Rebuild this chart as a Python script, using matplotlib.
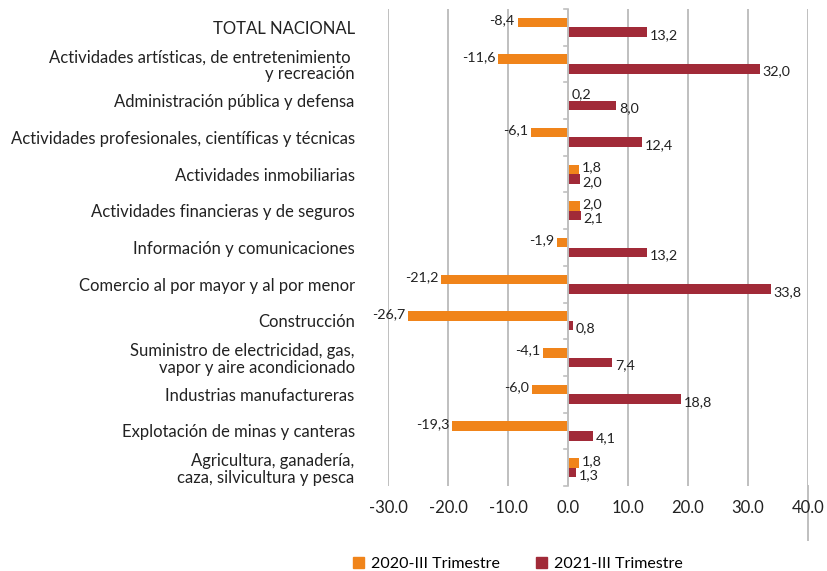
import matplotlib
matplotlib.use("Agg")
import matplotlib.pyplot as plt
import numpy as np
from matplotlib.patches import Patch

categories = [
    "TOTAL NACIONAL",
    "Actividades artísticas, de entretenimiento \ny recreación",
    "Administración pública y defensa",
    "Actividades profesionales, científicas y técnicas",
    "Actividades inmobiliarias",
    "Actividades financieras y de seguros",
    "Información y comunicaciones",
    "Comercio al por mayor y al por menor",
    "Construcción",
    "Suministro de electricidad, gas,\nvapor y aire acondicionado",
    "Industrias manufactureras",
    "Explotación de minas y canteras",
    "Agricultura, ganadería,\ncaza, silvicultura y pesca",
]
s2020 = [-8.4, -11.6, 0.2, -6.1, 1.8, 2.0, -1.9, -21.2, -26.7, -4.1, -6.0, -19.3, 1.8]
s2021 = [13.2, 32.0, 8.0, 12.4, 2.0, 2.1, 13.2, 33.8, 0.8, 7.4, 18.8, 4.1, 1.3]
xticks = [-30, -20, -10, 0, 10, 20, 30, 40]
series_names = ["2020-III Trimestre", "2021-III Trimestre"]

c1 = "#F0841A"
c2 = "#A12A38"
grid_c = "#BFBFBF"

plt.rcParams['font.family'] = ['Lato', 'DejaVu Sans']

fig = plt.figure(figsize=(8.27, 5.71), dpi=100)
ax = fig.add_axes([388/827, 1-486/571, 420/827, (486-9)/571])

n = len(categories)
y = np.arange(n)
h = 0.26
ax.barh(y - h/2, s2020, height=h, color=c1, zorder=3)
ax.barh(y + h/2, s2021, height=h, color=c2, zorder=3)

def fmt(v):
    return f"{v:.1f}".replace(".", ",")

for yi, v in zip(y, s2020):
    ha = "right" if v < 0 else "left"
    off = -2 if v < 0 else 2
    ax.annotate(fmt(v), (v, yi - h/2), xytext=(off, 1.6), textcoords="offset points",
                ha=ha, va="center", fontsize=10.3, color="#222222")
for yi, v in zip(y, s2021):
    ha = "right" if v < 0 else "left"
    off = -2 if v < 0 else 2
    ax.annotate(fmt(v), (v, yi + h/2), xytext=(off, -2), textcoords="offset points",
                ha=ha, va="center", fontsize=10.3, color="#222222")

ax.set_xlim(-30, 40)
ax.set_ylim(n - 0.5, -0.5)
ax.set_xticks(xticks)
ax.set_xticklabels([f"{t:.1f}" for t in xticks], fontsize=12, color="#222222")
ax.tick_params(axis="x", length=0, pad=10)
ax.set_yticks(y)
ax.set_yticklabels(categories, fontsize=12, color="#222222", ha="right",
                   multialignment="right", linespacing=1.05)
ax.tick_params(axis="y", length=0, pad=24)
for sp in ax.spines.values():
    sp.set_visible(False)
for t in xticks:
    if t != 0:
        ax.axvline(t, color=grid_c, lw=1.4, zorder=1)
ax.axvline(0, color=grid_c, lw=1.4, zorder=4)
for b in np.arange(-0.5, n, 1.0):
    ax.plot([-0.6, 0], [b, b], color=grid_c, lw=1.2, zorder=4, clip_on=False)
# the 40 gridline extends below the axis in the reference
ax.plot([40, 40], [n - 0.5, n - 0.5 + 54/36.7], color=grid_c, lw=1.4, clip_on=False, zorder=1)

handles = [Patch(color=c1), Patch(color=c2)]
fig.legend(handles, series_names, loc="center", bbox_to_anchor=(0.626, 1-564/571),
           ncol=2, frameon=False, fontsize=11.5, handlelength=0.7, handleheight=0.7,
           columnspacing=2.3, handletextpad=0.4)

fig.savefig("out.png", dpi=100)
